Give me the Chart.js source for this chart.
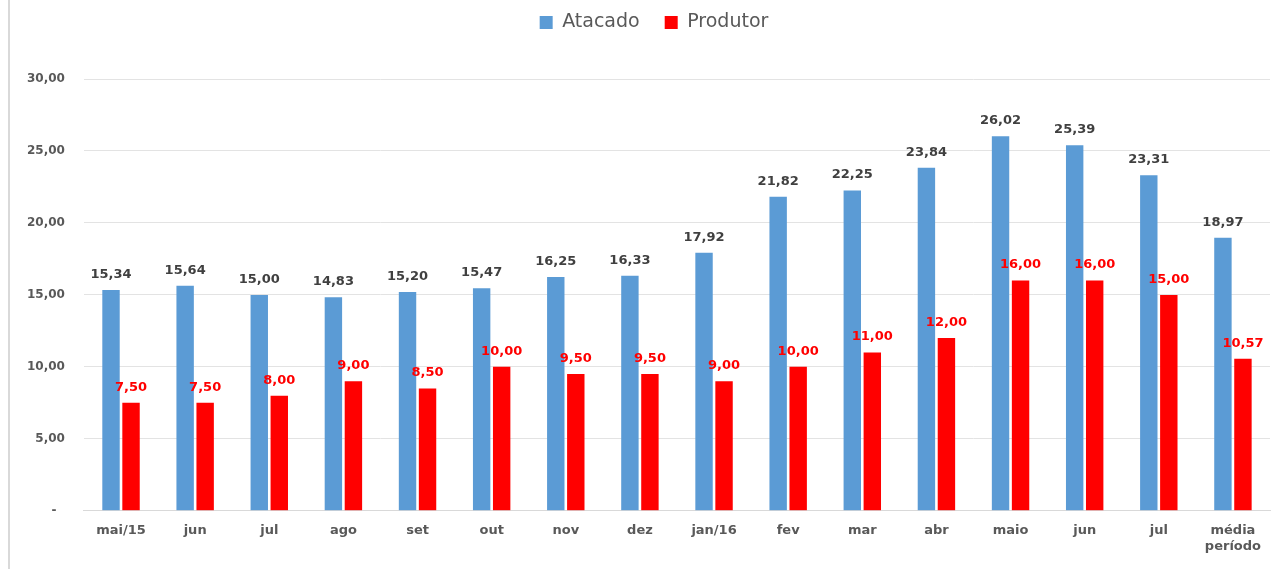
<!DOCTYPE html>
<html>
<head>
<meta charset="utf-8">
<script src="https://cdn.jsdelivr.net/npm/chart.js@4"></script>
<style>
    body { margin: 0; background: #fff; }
    .wrap { position: relative; width: 1280px; height: 569px; }
    .edge { position: absolute; left: 8px; top: 0; width: 2px; height: 569px; background: #d9d9d9; }
    canvas { position: absolute; left: 0; top: 0; }
</style>
</head>
<body>
<div class="wrap">
    <div class="edge"></div>
    <canvas id="chart" width="1280" height="569"></canvas>
</div>
<script>
const categories = ['mai/15', 'jun', 'jul', 'ago', 'set', 'out', 'nov', 'dez', 'jan/16', 'fev', 'mar', 'abr', 'maio', 'jun', 'jul', ['média', 'período']];
const atacado = [15.34, 15.64, 15.00, 14.83, 15.20, 15.47, 16.25, 16.33, 17.92, 21.82, 22.25, 23.84, 26.02, 25.39, 23.31, 18.97];
const produtor = [7.50, 7.50, 8.00, 9.00, 8.50, 10.00, 9.50, 9.50, 9.00, 10.00, 11.00, 12.00, 16.00, 16.00, 15.00, 10.57];

const fontFamily = '"DejaVu Sans", Verdana, sans-serif';
const fmt = v => v.toFixed(2).replace('.', ',');

// draws the value above each bar
const barLabels = {
    id: 'barLabels',
    afterDatasetsDraw(chart) {
        const ctx = chart.ctx;
        ctx.save();
        ctx.font = 'bold 13px ' + fontFamily;
        ctx.textAlign = 'center';
        ctx.textBaseline = 'bottom';
        chart.data.datasets.forEach((ds, i) => {
            const meta = chart.getDatasetMeta(i);
            ctx.fillStyle = ds.labelColor;
            meta.data.forEach((bar, j) => {
                ctx.fillText(fmt(ds.data[j]), bar.x, bar.y - 9);
            });
        });
        ctx.restore();
    }
};

// extra room under the legend, and nudge it a bit right like the original
const legendGap = {
    id: 'legendGap',
    beforeInit(chart) {
        const fit = chart.legend.fit;
        chart.legend.fit = function () {
            fit.bind(chart.legend)();
            this.height += 37;
        };
    },
    afterLayout(chart) {
        chart.legend.left += 15;
        chart.legend.right += 15;
    }
};

new Chart(document.getElementById('chart').getContext('2d'), {
    type: 'bar',
    data: {
        labels: categories,
        datasets: [
            {
                label: 'Atacado',
                data: atacado,
                backgroundColor: '#5B9BD5',
                labelColor: '#404040',
                categoryPercentage: 0.54,
                barPercentage: 0.87
            },
            {
                label: 'Produtor',
                data: produtor,
                backgroundColor: '#FF0000',
                labelColor: '#FF0000',
                categoryPercentage: 0.54,
                barPercentage: 0.87
            }
        ]
    },
    options: {
        responsive: false,
        animation: false,
        devicePixelRatio: 1,
        layout: {
            padding: {left: 8, right: 10, top: -12, bottom: 3}
        },
        plugins: {
            legend: {
                position: 'top',
                labels: {
                    boxWidth: 13,
                    boxHeight: 13,
                    padding: 25,
                    color: '#595959',
                    font: {family: fontFamily, size: 19}
                }
            },
            tooltip: {enabled: false}
        },
        scales: {
            x: {
                grid: {display: false, drawTicks: false},
                border: {color: '#d9d9d9'},
                ticks: {
                    color: '#595959',
                    padding: 12,
                    maxRotation: 0,
                    font: {family: fontFamily, size: 13, weight: 'bold'}
                }
            },
            y: {
                min: 0,
                max: 30,
                grid: {color: '#e3e3e3', drawTicks: false},
                border: {display: false},
                ticks: {
                    stepSize: 5,
                    color: '#595959',
                    padding: 19,
                    font: {family: fontFamily, size: 12, weight: 'bold'},
                    callback: v => v === 0 ? '-  ' : fmt(v)
                }
            }
        }
    },
    plugins: [barLabels, legendGap]
});
</script>
</body>
</html>
